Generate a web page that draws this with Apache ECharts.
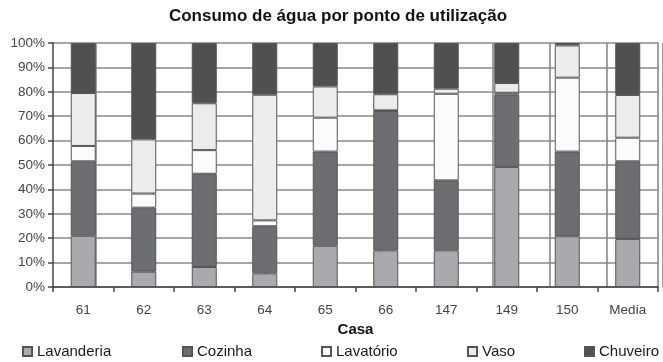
<!DOCTYPE html>
<html>
<head>
<meta charset="utf-8">
<script src="https://cdn.jsdelivr.net/npm/echarts@6/dist/echarts.min.js"></script>
<style>
  html, body { margin: 0; padding: 0; background: #fff; }
  #chart { width: 663px; height: 362px; }
</style>
</head>
<body>
<div id="chart"></div>
<script>
// Houses surveyed, plus the overall average
const casas = ['61', '62', '63', '64', '65', '66', '147', '149', '150', 'Media'];

// Share of water use (%) by point of use, per house
const lavanderia = [21.0, 6.3, 8.2, 5.6, 16.9, 15.0, 15.0, 49.2, 20.8, 19.7];
const cozinha    = [30.5, 26.2, 38.2, 19.3, 38.6, 57.1, 28.7, 29.6, 34.7, 31.8];
const lavatorio  = [6.3, 5.8, 9.7, 2.4, 13.9, 0.3, 35.5, 0.8, 30.3, 9.7];
const vaso       = [21.7, 22.2, 19.2, 51.5, 12.8, 6.6, 2.1, 4.0, 13.2, 17.5];
const chuveiro   = [20.5, 39.5, 24.7, 21.2, 17.8, 21.0, 18.7, 16.4, 1.0, 21.3];

const seriesNames = ['Lavanderia', 'Cozinha', 'Lavatório', 'Vaso', 'Chuveiro'];
const seriesData = [lavanderia, cozinha, lavatorio, vaso, chuveiro];
const seriesColors = ['#a9aaad', '#6d6e71', '#fbfbfb', '#ececec', '#505050'];
const legendLeft = [22, 182, 321, 467, 584];

const FONT = 'Liberation Sans, Arial, sans-serif';

const chart = echarts.init(document.getElementById('chart'), null, { renderer: 'canvas' });

const option = {
  backgroundColor: '#ffffff',
  animation: false,
  title: {
    text: 'Consumo de água por ponto de utilização',
    left: 333,
    textAlign: 'center',
    top: 3,
    textStyle: { fontFamily: FONT, fontSize: 17, fontWeight: 'bold', color: '#111' }
  },
  legend: seriesNames.map((n, i) => ({
    data: [n],
    left: legendLeft[i],
    top: 344,
    itemWidth: 9,
    itemHeight: 9,
    itemGap: 5,
    padding: 0,
    icon: 'rect',
    selectedMode: false,
    textStyle: { fontFamily: FONT, fontSize: 15, color: '#1a1a1a', padding: [0, 0, 0, 0] }
  })),
  grid: [
    { left: 53, top: 43, width: 605, height: 244, containLabel: false },
    // grid carrying the vertical rules that sit at the bars' right edges
    { left: 96, top: 43, width: 605, height: 244, containLabel: false }
  ],
  xAxis: [
    {
      type: 'category',
      gridIndex: 0,
      data: casas,
      name: 'Casa',
      nameLocation: 'middle',
      nameGap: 34,
      nameTextStyle: { fontFamily: FONT, fontSize: 15, fontWeight: 'bold', color: '#111' },
      axisLine: { show: true, lineStyle: { color: '#444', width: 1.5 } },
      axisTick: { show: true, alignWithLabel: false, length: 5, lineStyle: { color: '#444', width: 1.5 } },
      axisLabel: { fontFamily: FONT, fontSize: 13.5, color: '#444', margin: 16 },
      splitLine: { show: false }
    },
    {
      type: 'value',
      gridIndex: 1,
      min: 0,
      max: 10,
      interval: 1,
      axisLine: { show: false },
      axisTick: { show: false },
      axisLabel: { show: false },
      splitLine: { show: true, lineStyle: { color: '#888', width: 1.6 } }
    }
  ],
  yAxis: [
    {
      type: 'value',
      gridIndex: 0,
      min: 0,
      max: 100,
      interval: 10,
      axisLine: { show: true, lineStyle: { color: '#444', width: 1.5 } },
      axisTick: { show: true, length: 5, lineStyle: { color: '#444', width: 1.5 } },
      axisLabel: { fontFamily: FONT, fontSize: 13.5, color: '#444', margin: 8, formatter: '{value}%' },
      splitLine: { show: true, lineStyle: { color: '#888', width: 1.6 } }
    },
    {
      type: 'value',
      gridIndex: 0,
      position: 'right',
      min: 0,
      max: 100,
      interval: 10,
      axisLine: { show: true, lineStyle: { color: '#888', width: 1.6 } },
      axisTick: { show: false },
      axisLabel: { show: false },
      splitLine: { show: false }
    },
    {
      type: 'value',
      gridIndex: 1,
      show: false,
      min: 0,
      max: 100
    }
  ],
  series: seriesNames.map((n, i) => ({
    name: n,
    type: 'bar',
    stack: 'total',
    xAxisIndex: 0,
    yAxisIndex: 0,
    barWidth: 25,
    data: seriesData[i],
    itemStyle: { color: seriesColors[i], borderColor: '#555', borderWidth: 1 },
    z: 3
  }))
};

chart.setOption(option);
</script>
</body>
</html>
